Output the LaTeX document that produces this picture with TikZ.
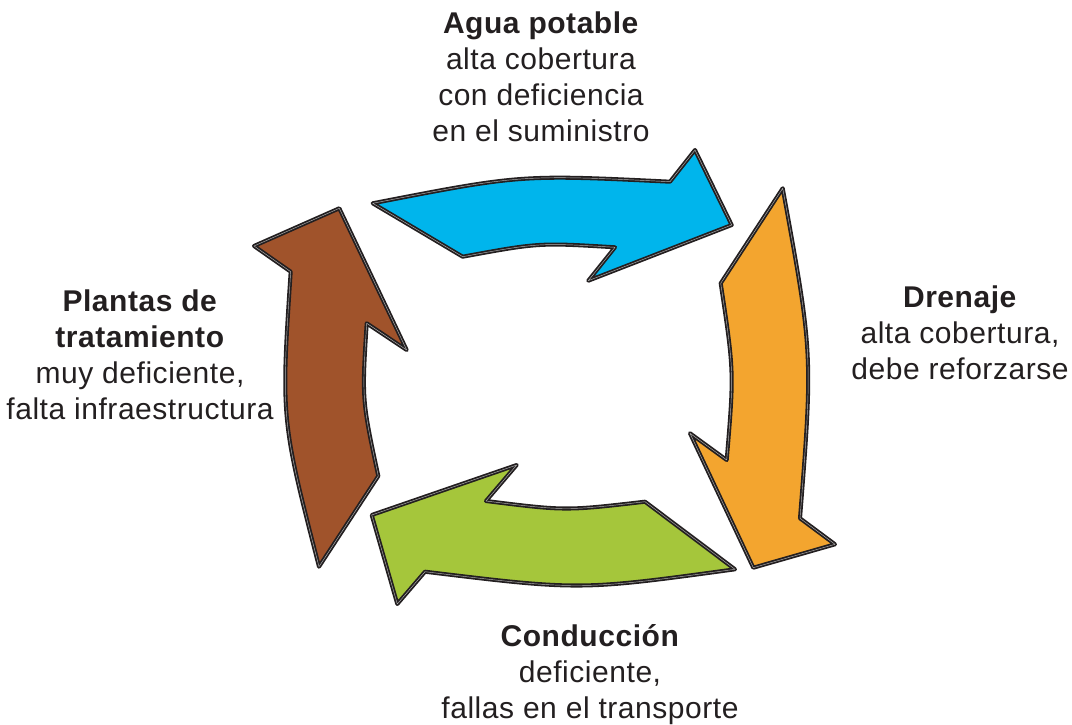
\documentclass[tikz,border=0pt]{standalone}
\usepackage{fontspec}
\setmainfont{Liberation Sans}[LetterSpace=1.8]
\definecolor{ink}{HTML}{231F20}
\definecolor{cblue}{HTML}{00B5EC}
\definecolor{corange}{HTML}{F3A52F}
\definecolor{cgreen}{HTML}{A5C63B}
\definecolor{cbrown}{HTML}{A0532B}
\tikzset{
  arrowshape/.style={draw=ink, line width=1.8pt, double=white!70!black, double distance=0.45pt, line join=round},
  label/.style={align=center, text=ink, font=\fontsize{30}{36}\selectfont, inner sep=0pt},
}
\begin{document}
\begin{tikzpicture}[x=1pt,y=-1pt]
\useasboundingbox (0,0) rectangle (1072,725);
% blue arrow
\path[arrowshape, fill=cblue]
  (372.7,203.3) .. controls (521,174.5) .. (670,181.7)
  -- (695,150) -- (731.7,225) -- (588.3,280.7) -- (615,247.3)
  .. controls (539,242.7) .. (462.7,256.7) -- cycle;
% orange arrow
\path[arrowshape, fill=corange]
  (782.7,188.3) .. controls (812.9,353.3) .. (800,518.3)
  -- (835,544.3) -- (753.3,567.7) -- (690,433.3) -- (726.7,460)
  .. controls (734.1,371.7) .. (720.7,283.3) -- cycle;
% green arrow
\path[arrowshape, fill=cgreen]
  (735,569.3) .. controls (580,590.5) .. (425,571.7)
  -- (397.3,604) -- (371.7,515) -- (516.7,465) -- (486,501)
  .. controls (565.5,510.9) .. (645,501.7) -- cycle;
% brown arrow
\path[arrowshape, fill=cbrown]
  (319,566.7) .. controls (281,419.2) .. (290.7,271.7)
  -- (254,246) -- (339.3,208.3) -- (406.7,350) -- (366.7,323.3)
  .. controls (361.9,399.7) .. (378.3,476) -- cycle;
% labels
\node[label] (agua) at (541,76.5) {\textbf{Agua potable}\\alta cobertura\\con deficiencia\\en el suministro};
\node[label] (dren) at (960,332.5) {\textbf{Drenaje}\\alta cobertura,\\debe reforzarse};
\node[label] (plant) at (140,355) {\textbf{Plantas de}\\\textbf{tratamiento}\\muy deficiente,\\falta infraestructura};
\node[label] (cond) at (590,674.5) {\textbf{Conducción}\\deficiente,\\fallas en el transporte};
\end{tikzpicture}
\end{document}
